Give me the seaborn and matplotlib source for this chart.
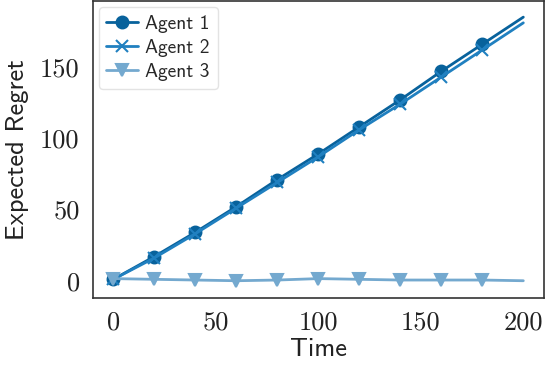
import numpy as np
import pandas as pd
import seaborn as sns
import matplotlib
matplotlib.use('Agg')
import matplotlib.pyplot as plt

# values (every 20 time steps)
time = [0, 20, 40, 60, 80, 100, 120, 140, 160, 180, 200]
agent1 = [1, 17, 34, 52, 71, 89, 108, 127, 147, 166, 185]
agent2 = [1, 16, 33, 51, 69, 87, 106, 124, 143, 162, 181]
agent3 = [1.5, 1, 0.5, 0, 0.5, 1.5, 1, 0.5, 0.5, 0.5, 0]
agents = ['Agent 1', 'Agent 2', 'Agent 3']
markers = ['o', 'x', 'v']
colors = ['#08629c', '#2080c0', '#74a9cf']
xticks = [0, 50, 100, 150, 200]
yticks = [0, 50, 100, 150]

sns.set_style('white')
fig = plt.figure(figsize=(5.46, 3.65), dpi=100)
ax = fig.add_axes([0.170, 0.184, 0.826, 0.812])

for name, vals, m, c in zip(agents, [agent1, agent2, agent3], markers, colors):
    df = pd.DataFrame({'Time': time, 'Regret': vals})
    sns.lineplot(data=df, x='Time', y='Regret', ax=ax, label=name, color=c,
                 marker=m, markersize=8.5, mec=c, mfc=c, mew=1.5,
                 linewidth=2, markevery=slice(0, len(time) - 1))

ax.set_xticks(xticks)
ax.set_xticklabels([str(t) for t in xticks], fontfamily='cmr10', fontsize=19,
                   color='#222222')
ax.set_yticks(yticks)
ax.set_yticklabels([str(t) for t in yticks], fontfamily='cmr10', fontsize=19,
                   color='#222222')
ax.set_ylim(-12, 196)
ax.set_xlabel('Time', fontfamily='cmss10', fontsize=19, labelpad=2,
              color='#222222')
ax.set_ylabel('Expected Regret', fontfamily='cmss10', fontsize=19, labelpad=8,
              color='#222222')
ax.tick_params(pad=6)
for s in ax.spines.values():
    s.set_color('#333333')
    s.set_linewidth(1.2)

leg = ax.legend(loc='upper left', prop={'family': 'cmss10', 'size': 14},
                frameon=True, borderaxespad=0.3, handlelength=1.6,
                handletextpad=0.4, labelspacing=0.3)
leg.get_frame().set_edgecolor('#dddddd')

fig.savefig('out.png', dpi=100)
